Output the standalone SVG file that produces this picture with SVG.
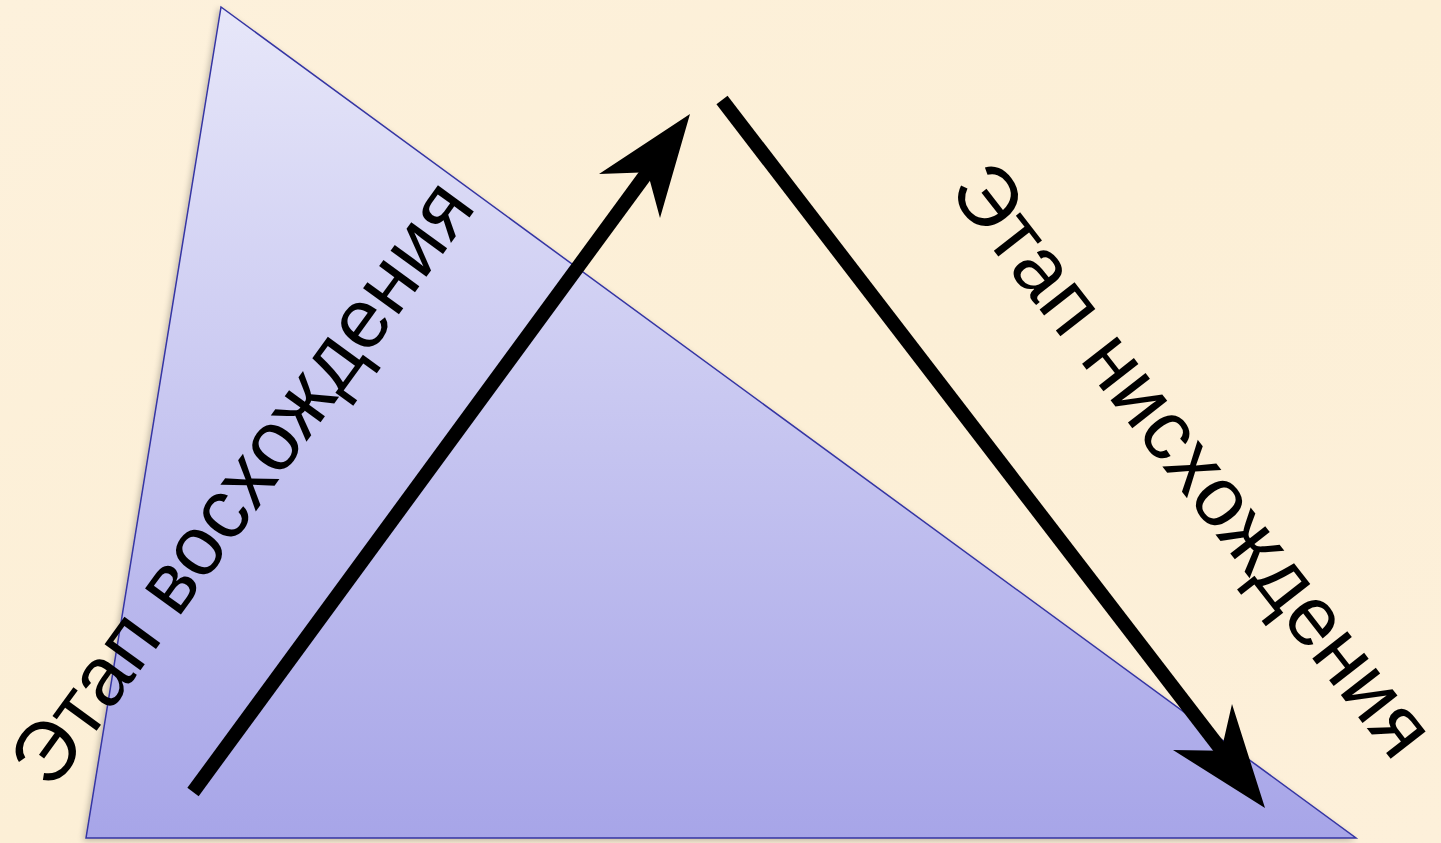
<svg xmlns="http://www.w3.org/2000/svg" width="1441" height="843" viewBox="0 0 1441 843">
  <defs>
    <linearGradient id="bg" x1="0" y1="0" x2="1" y2="1">
      <stop offset="0" stop-color="#fdf1dc"/>
      <stop offset="0.5" stop-color="#fcefd6"/>
      <stop offset="1" stop-color="#fdf0da"/>
    </linearGradient>
    <linearGradient id="tri" x1="0" y1="0" x2="0" y2="1">
      <stop offset="0" stop-color="#e7e7f9"/>
      <stop offset="1" stop-color="#a7a5e8"/>
    </linearGradient>
    <filter id="sh" x="-5%" y="-5%" width="110%" height="110%">
      <feGaussianBlur in="SourceAlpha" stdDeviation="3"/>
      <feOffset dx="-2" dy="2"/>
      <feComponentTransfer><feFuncA type="linear" slope="0.25"/></feComponentTransfer>
      <feMerge><feMergeNode/><feMergeNode in="SourceGraphic"/></feMerge>
    </filter>
    <style>
      .lbl { font-family: "Liberation Sans", Arial, sans-serif; font-size: 84px; fill: #000; }
      .shaft { stroke: #000; stroke-width: 14; fill: none; }
      .head { fill: #000; }
    </style>
  </defs>
  <rect width="1441" height="843" fill="url(#bg)"/>
  <g id="triangle">
    <polygon points="221,7 86,838 1356,838" fill="url(#tri)" stroke="#3535a3" stroke-width="1.5" filter="url(#sh)"/>
  </g>
  <g id="connectors">
    <g id="arrow-up">
      <line class="shaft" x1="193" y1="792" x2="652" y2="166"/>
      <polygon class="head" points="690,114 660,218 647.6,172.2 599,174"/>
    </g>
    <g id="arrow-down">
      <line class="shaft" x1="722" y1="100" x2="1226" y2="756"/>
      <polygon class="head" points="1265,808 1173,750 1221.3,750.7 1232,704"/>
    </g>
  </g>
  <g id="label-ascent">
    <text class="lbl" transform="translate(52,792) rotate(-54)">Этап восхождения</text>
  </g>
  <g id="label-descent">
    <text class="lbl" transform="translate(947,191) rotate(52)">Этап нисхождения</text>
  </g>
</svg>
